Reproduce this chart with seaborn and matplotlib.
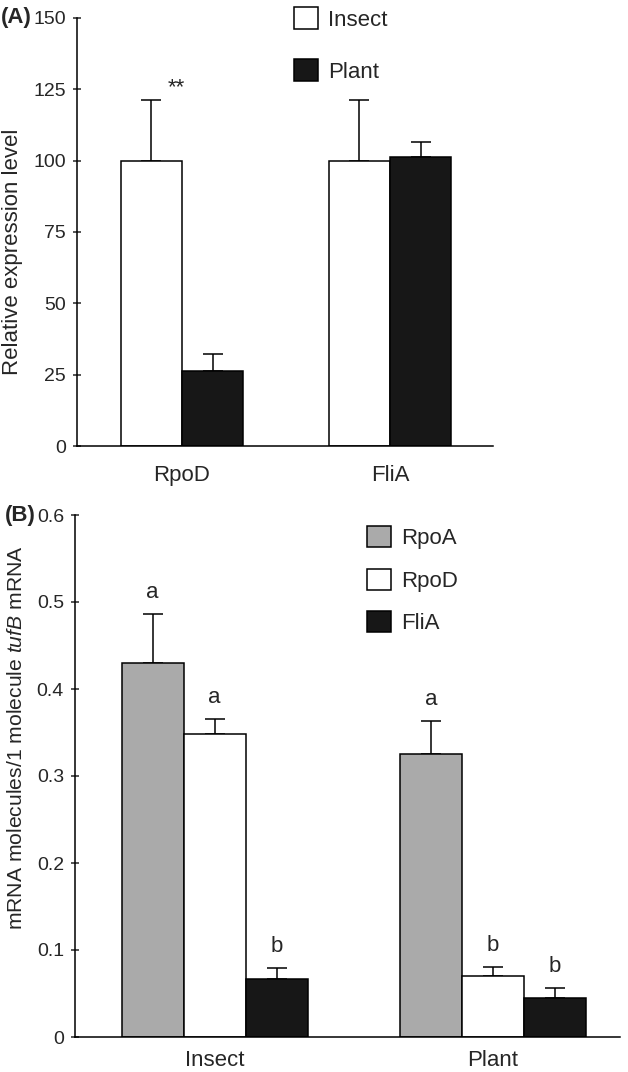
import matplotlib
matplotlib.use('Agg')
import numpy as np
import pandas as pd
import matplotlib.pyplot as plt
import matplotlib.patches as mpatches
import seaborn as sns

# 样式
sns.set_style('ticks')
plt.rcParams['font.family'] = ['Liberation Sans', 'DejaVu Sans']
plt.rcParams['mathtext.fontset'] = 'custom'
plt.rcParams['mathtext.rm'] = 'Liberation Sans'
plt.rcParams['mathtext.it'] = 'Liberation Sans:italic'

# (A) 数据
genes_a = ['RpoD', 'FliA']
hosts_a = ['Insect', 'Plant']
expr_insect = [100, 100]
expr_plant = [26.3, 101.2]
err_insect = [21.3, 21.3]
err_plant = [6.1, 5.5]
yticks_a = [0, 25, 50, 75, 100, 125, 150]

# (B) 数据
hosts_b = ['Insect', 'Plant']
sigma_b = ['RpoA', 'RpoD', 'FliA']
val_rpoA = [0.430, 0.325]
val_rpoD = [0.348, 0.070]
val_fliA = [0.067, 0.045]
err_rpoA = [0.056, 0.038]
err_rpoD = [0.018, 0.0105]
err_fliA = [0.012, 0.0115]
letters_rpoA = ['a', 'a']
letters_rpoD = ['a', 'b']
letters_fliA = ['b', 'b']
yticks_b = [0, 0.1, 0.2, 0.3, 0.4, 0.5, 0.6]
yticklabels_b = ['0', '0.1', '0.2', '0.3', '0.4', '0.5', '0.6']

colors_a = ['white', '#171717']
colors_b = ['#aaaaaa', 'white', '#171717']

df_a = pd.DataFrame({
    'gene': genes_a * 2,
    'host': [hosts_a[0]] * 2 + [hosts_a[1]] * 2,
    'value': expr_insect + expr_plant,
})
df_b = pd.DataFrame({
    'host': hosts_b * 3,
    'sigma': [s for s in sigma_b for _ in hosts_b],
    'value': val_rpoA + val_rpoD + val_fliA,
})

W, H = 628, 1072
fig = plt.figure(figsize=(W / 100, H / 100), dpi=100)


def px_axes(left, top, right, bottom):
    return fig.add_axes([left / W, 1 - bottom / H, (right - left) / W, (bottom - top) / H])


def add_errbars(ax, errs):
    for cont, err in zip(ax.containers, errs):
        xs = [p.get_x() + p.get_width() / 2 for p in cont]
        ys = cont.datavalues
        ax.errorbar(xs, ys, yerr=[np.zeros(len(err)), err], fmt='none', ecolor='black',
                    elinewidth=1.1, capsize=7, capthick=1.1, zorder=0.9)


def style_axes(ax):
    sns.despine(ax=ax)
    for s in ['left', 'bottom']:
        ax.spines[s].set_linewidth(1.1)
        ax.spines[s].set_color('black')
    ax.tick_params(axis='y', direction='inout', length=6, width=1.1, labelsize=14, pad=5)
    ax.set_xlabel('')
    ax.set_ylabel('')


# ---------- (A) ----------
ax1 = px_axes(77, 18, 493, 446)
sns.barplot(data=df_a, x='gene', y='value', hue='host', order=genes_a, hue_order=hosts_a,
            palette=colors_a, width=0.59, edgecolor='black', linewidth=1.1,
            errorbar=None, legend=False, ax=ax1)
add_errbars(ax1, [err_insect, err_plant])
ax1.set_ylim(0, 150)
ax1.set_xlim(-0.505, 1.495)
ax1.set_yticks(yticks_a)
style_axes(ax1)
ax1.tick_params(axis='x', length=0, labelsize=16, pad=14)
ax1.annotate('**', (0, expr_insect[0] + err_insect[0]), xytext=(-4, 4.5),
             textcoords='offset points', ha='center', va='baseline', fontsize=16)
handles_a = [mpatches.Patch(facecolor=c, edgecolor='black', linewidth=1.1) for c in colors_a]
fig.legend(handles_a, hosts_a, loc='upper left', bbox_to_anchor=(294 / W, 1 - 7 / H),
           frameon=False, fontsize=16, handlelength=1.1, handleheight=1.15,
           handletextpad=0.45, labelspacing=1.28, borderpad=0, borderaxespad=0)
fig.text(1 / W, 1 - 18 / H, '(A)', fontsize=16, fontweight='bold', ha='left', va='center')
fig.text(13 / W, 1 - 252 / H, 'Relative expression level', fontsize=16,
         rotation=90, ha='center', va='center')

# ---------- (B) ----------
ax2 = px_axes(75, 515, 620, 1037)
sns.barplot(data=df_b, x='host', y='value', hue='sigma', order=hosts_b, hue_order=sigma_b,
            palette=colors_b, width=0.668, edgecolor='black', linewidth=1.1,
            errorbar=None, legend=False, ax=ax2)
errs_b = [err_rpoA, err_rpoD, err_fliA]
add_errbars(ax2, errs_b)
for cont, err, labs in zip(ax2.containers, errs_b, [letters_rpoA, letters_rpoD, letters_fliA]):
    for p, v, e, lab in zip(cont, cont.datavalues, err, labs):
        ax2.annotate(lab, (p.get_x() + p.get_width() / 2, v + e), xytext=(0, 11.4),
                     textcoords='offset points', ha='center', va='baseline', fontsize=16)
ax2.set_ylim(0, 0.6)
ax2.set_xlim(-0.501, 1.456)
ax2.set_yticks(yticks_b)
ax2.set_yticklabels(yticklabels_b)
style_axes(ax2)
ax2.tick_params(axis='x', length=0, labelsize=16, pad=9)
handles_b = [mpatches.Patch(facecolor=c, edgecolor='black', linewidth=1.1) for c in colors_b]
fig.legend(handles_b, sigma_b, loc='upper left', bbox_to_anchor=(367 / W, 1 - 526 / H),
           frameon=False, fontsize=16, handlelength=1.08, handleheight=1.08,
           handletextpad=0.45, labelspacing=0.88, borderpad=0, borderaxespad=0)
fig.text(5 / W, 1 - 515 / H, '(B)', fontsize=16, fontweight='bold', ha='left', va='center')
fig.text(17 / W, 1 - 738 / H, 'mRNA molecules/1 molecule $\\mathit{tufB}$ mRNA', fontsize=15.2,
         rotation=90, ha='center', va='center')

fig.savefig('out.png', dpi=100)
